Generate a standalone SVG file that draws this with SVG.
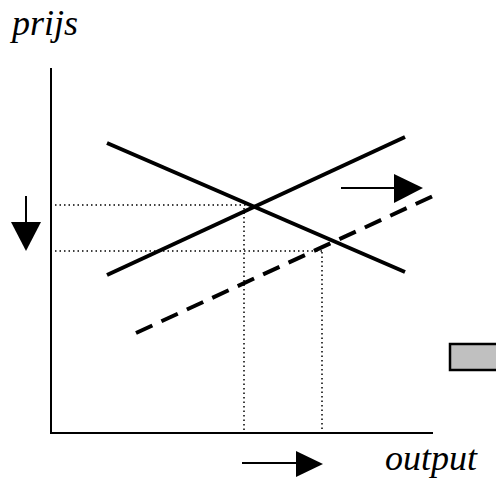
<svg xmlns="http://www.w3.org/2000/svg" width="496" height="484" viewBox="0 0 496 484">
<style>
.lbl{font-family:"Liberation Serif","Times New Roman",Times,serif;font-style:italic;font-size:36px;fill:#000}
.thick{stroke:#000;stroke-width:4;fill:none}
.dot{stroke:#000;stroke-width:1.5;stroke-dasharray:1.5 3;fill:none}
</style>
<rect width="496" height="484" fill="#fff"/>
<g id="axes">
<line x1="51" y1="68" x2="51" y2="434" stroke="#000" stroke-width="2"/>
<line x1="50" y1="433" x2="433" y2="433" stroke="#000" stroke-width="2"/>
</g>
<g id="guides">
<line class="dot" x1="55" y1="205" x2="252" y2="205"/>
<line class="dot" x1="55" y1="251" x2="325" y2="251"/>
<line class="dot" x1="244" y1="208" x2="244" y2="432"/>
<line class="dot" x1="322" y1="252" x2="322" y2="432"/>
</g>
<g id="curves">
<line class="thick" x1="107" y1="143" x2="405" y2="272"/>
<line class="thick" x1="107" y1="275" x2="405" y2="137"/>
<line class="thick" x1="136" y1="333" x2="433" y2="196" stroke-dasharray="18 10"/>
</g>
<g id="arrows">
<line x1="26" y1="196" x2="26" y2="224" stroke="#000" stroke-width="2"/>
<polygon points="11,222 41,222 26,251" fill="#000"/>
<line x1="341" y1="188" x2="396" y2="188" stroke="#000" stroke-width="2"/>
<polygon points="394,174 394,203 423,188" fill="#000"/>
<line x1="242" y1="463" x2="298" y2="463" stroke="#000" stroke-width="2"/>
<polygon points="296,451 296,477 323,464" fill="#000"/>
</g>
<g id="box">
<rect x="450" y="344" width="50" height="26" fill="#c0c0c0" stroke="#000" stroke-width="2.5"/>
</g>
<g id="labels">
<text class="lbl" x="12" y="35">prijs</text>
<text class="lbl" x="385" y="470">output</text>
</g>
</svg>
